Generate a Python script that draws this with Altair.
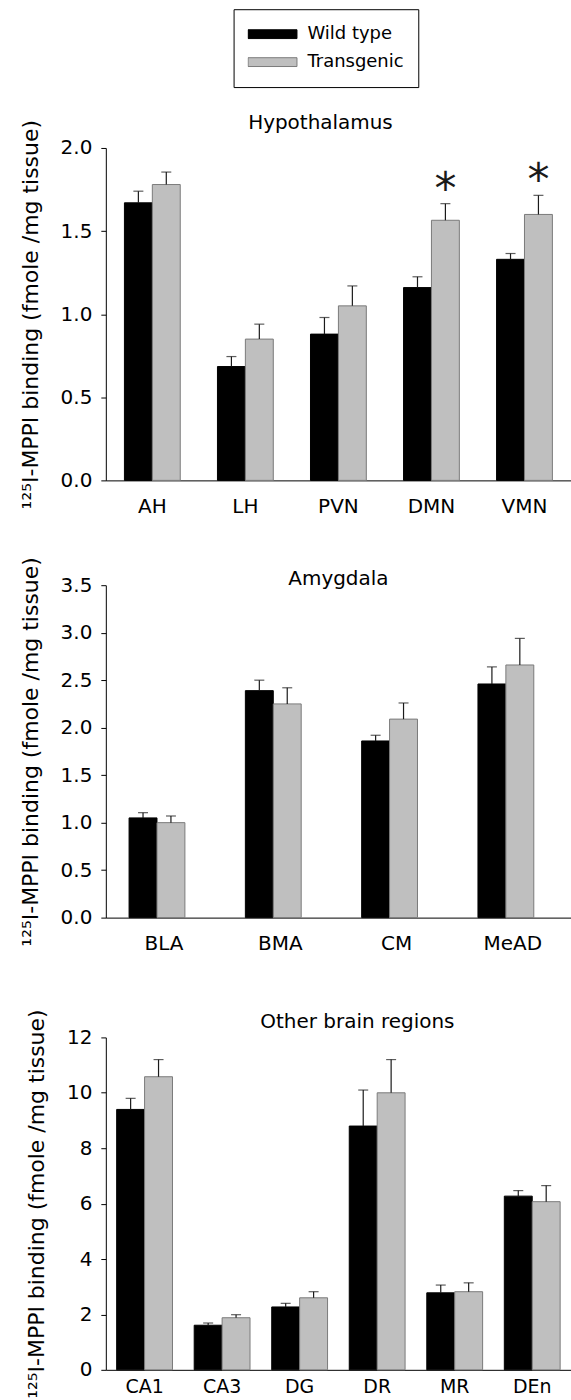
import altair as alt
import pandas as pd

groups = ["Wild type", "Transgenic"]
fill_colors = ["#000000", "#bfbfbf"]
stroke_colors = ["#000000", "#7a7a7a"]
y_title = "¹²⁵I-MPPI binding (fmole /mg tissue)"

# Hypothalamus
hypo_regions = ["AH", "LH", "PVN", "DMN", "VMN"]
hypo_wt = [1.67, 0.685, 0.88, 1.16, 1.33]
hypo_wt_err = [0.07, 0.06, 0.10, 0.065, 0.035]
hypo_tg = [1.78, 0.85, 1.05, 1.565, 1.60]
hypo_tg_err = [0.075, 0.09, 0.12, 0.10, 0.115]
hypo_sig = ["", "", "", "*", "*"]

# Amygdala
amyg_regions = ["BLA", "BMA", "CM", "MeAD"]
amyg_wt = [1.05, 2.39, 1.86, 2.46]
amyg_wt_err = [0.055, 0.11, 0.06, 0.18]
amyg_tg = [1.00, 2.25, 2.09, 2.66]
amyg_tg_err = [0.07, 0.17, 0.17, 0.28]

# Other brain regions
other_regions = ["CA1", "CA3", "DG", "DR", "MR", "DEn"]
other_wt = [9.40, 1.61, 2.27, 8.80, 2.78, 6.27]
other_wt_err = [0.40, 0.08, 0.13, 1.30, 0.28, 0.20]
other_tg = [10.58, 1.88, 2.60, 10.00, 2.82, 6.07]
other_tg_err = [0.62, 0.11, 0.22, 1.20, 0.32, 0.58]

hypo_ticks = [0, 0.5, 1.0, 1.5, 2.0]
amyg_ticks = [0, 0.5, 1.0, 1.5, 2.0, 2.5, 3.0, 3.5]
other_ticks = [0, 2, 4, 6, 8, 10, 12]


def make_df(regions, wt, wt_err, tg, tg_err, sig=None):
    rows = []
    for i, r in enumerate(regions):
        rows.append(dict(region=r, group=groups[0], mean=wt[i], err=wt_err[i],
                         upper=wt[i] + wt_err[i], sig=""))
        rows.append(dict(region=r, group=groups[1], mean=tg[i], err=tg_err[i],
                         upper=tg[i] + tg_err[i], sig=(sig[i] if sig else "")))
    return pd.DataFrame(rows)


legend = alt.Legend(
    title=None, orient="none", legendX=128, legendY=-139, direction="vertical",
    symbolType="M-1,-0.18L1,-0.18L1,0.18L-1,0.18Z", symbolSize=2401,
    symbolStrokeWidth=1, clipHeight=22, rowPadding=6,
    labelFontSize=18, labelOffset=10, labelColor="black", labelFont="DejaVu Sans",
    strokeColor="black", fillColor="white", padding=14, cornerRadius=0,
)


def panel(df, regions, ymax, yvals, fmt, title, pi, po, t_offset, t_dx, xpad, xfs):
    xenc = alt.X("region:N", sort=regions,
                 scale=alt.Scale(paddingInner=pi, paddingOuter=po),
                 axis=alt.Axis(title=None, labelAngle=0, ticks=False, labelFontSize=xfs,
                               labelPadding=xpad, labelColor="black", domainColor="black",
                               domainWidth=1))
    xoff = alt.XOffset("group:N", sort=groups,
                       scale=alt.Scale(domain=groups, paddingInner=0, paddingOuter=0))
    yscale = alt.Scale(domain=[0, ymax], nice=False, zero=True)
    yaxis = alt.Axis(values=yvals, format=fmt, title=y_title, titleFontSize=22,
                     titleFontWeight="normal", titleColor="black", titlePadding=18,
                     labelFontSize=20, labelColor="black", labelPadding=9, tickSize=5,
                     tickColor="black", domainColor="black", grid=False)
    base = alt.Chart(df).encode(x=xenc, xOffset=xoff)
    bars = base.mark_bar(strokeWidth=1).encode(
        y=alt.Y("mean:Q", scale=yscale, axis=yaxis, title=y_title),
        color=alt.Color("group:N", scale=alt.Scale(domain=groups, range=fill_colors),
                        legend=legend),
        stroke=alt.Stroke("group:N", scale=alt.Scale(domain=groups, range=stroke_colors),
                          legend=legend),
    )
    rules = base.mark_rule(color="#1a1a1a", strokeWidth=1.2).encode(
        y=alt.Y("mean:Q", scale=yscale, axis=yaxis, title=y_title), y2="upper:Q")
    caps = base.mark_tick(color="#1a1a1a", thickness=1.2, size=10).encode(
        y=alt.Y("upper:Q", scale=yscale, axis=yaxis, title=y_title))
    layers = [bars, rules, caps]
    if (df["sig"] != "").any():
        stars = base.mark_text(fontSize=44, baseline="alphabetic", dy=0, color="#1a1a1a",
                               font="DejaVu Sans").encode(
            y=alt.Y("upper:Q", scale=yscale, axis=yaxis, title=y_title), text="sig:N"
        ).transform_filter(alt.datum.sig != "")
        layers.append(stars)
    return alt.layer(*layers).properties(
        width=466, height=333,
        title=alt.TitleParams(title, fontSize=20, fontWeight="normal", color="black",
                              anchor="middle", frame="group", offset=t_offset, dx=t_dx),
    )


p1 = panel(make_df(hypo_regions, hypo_wt, hypo_wt_err, hypo_tg, hypo_tg_err, hypo_sig),
           hypo_regions, 2.0, hypo_ticks, ".1f", "Hypothalamus", 0.4, 0.2, -14, -18, 16, 20)
p2 = panel(make_df(amyg_regions, amyg_wt, amyg_wt_err, amyg_tg, amyg_tg_err),
           amyg_regions, 3.5, amyg_ticks, ".1f", "Amygdala", 0.4, 0.2, -32, 0, 16, 20)
p3 = panel(make_df(other_regions, other_wt, other_wt_err, other_tg, other_tg_err),
           other_regions, 12, other_ticks, "d", "Other brain regions", 0.28, 0.14, -23, 19, 8, 19)

inner = alt.vconcat(p2, p3, spacing=120, bounds="flush")
chart = alt.vconcat(p1, inner, spacing=40).properties(
    padding={"left": 19, "top": 7, "right": 0, "bottom": 0}
).configure(font="DejaVu Sans").configure_view(stroke=None)

chart.save("out.html", embed_options={"renderer": "svg", "actions": False})
